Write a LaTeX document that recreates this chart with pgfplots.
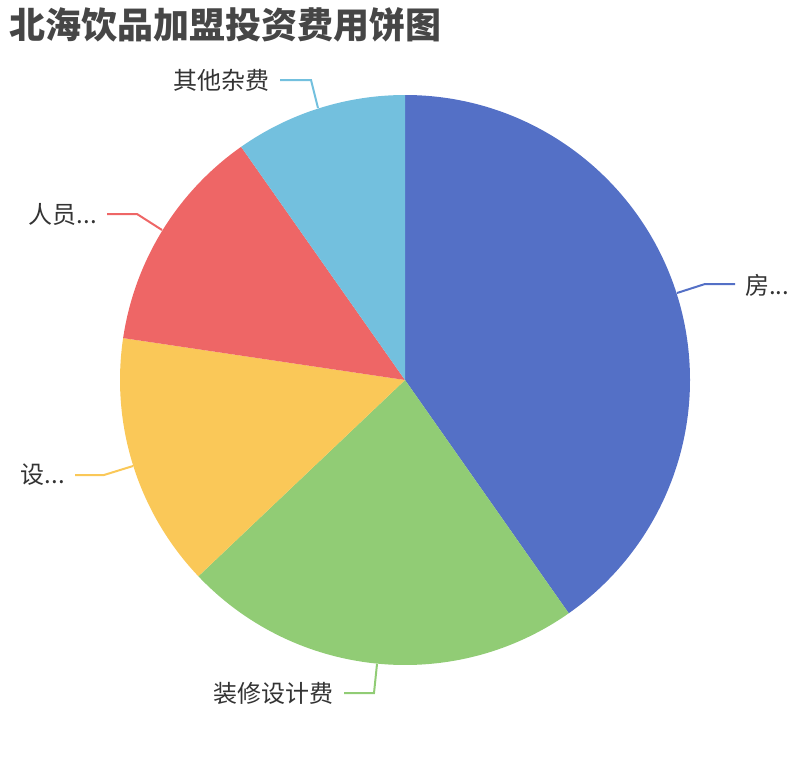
\documentclass[border=0pt]{standalone}
\usepackage{pgfplots}
\pgfplotsset{compat=1.18}
\usepackage{pgfplotstable}
\usepackage{fontspec}
\setmainfont{Noto Sans CJK SC}
\newfontfamily\cjk{Noto Sans CJK SC}
\definecolor{c1}{HTML}{5470C6}
\definecolor{c2}{HTML}{91CC75}
\definecolor{c3}{HTML}{FAC858}
\definecolor{c4}{HTML}{EE6666}
\definecolor{c5}{HTML}{73C0DE}
\definecolor{titlec}{HTML}{464646}
\definecolor{labc}{HTML}{333333}
\pgfplotstableread{
value color
40.26 c1
22.65 c2
14.44 c3
12.90 c4
9.75 c5
}\piedata
\begin{document}
\begin{tikzpicture}
\begin{axis}[
  width=607.5pt, height=570pt, scale only axis,
  xmin=0, xmax=810, ymin=0, ymax=760, y dir=reverse,
  hide axis, clip=false]
\addplot[draw=none, forget plot] coordinates {(0,0) (810,760)};
\pgfplotsextra{
  \path (axis cs:0,0) rectangle (axis cs:810,760);
  \gdef\cum{0}
  \foreach \i in {0,...,4}{%
    \pgfplotstablegetelem{\i}{value}\of\piedata
    \let\v\pgfplotsretval
    \pgfplotstablegetelem{\i}{color}\of\piedata
    \let\c\pgfplotsretval
    \pgfmathsetmacro\a{90-3.6*\cum}
    \pgfmathsetmacro\b{90-3.6*(\cum+\v)}
    \fill[color=\c] (axis cs:405,380) -- ++(\a:213.75pt) arc[start angle=\a, end angle=\b, radius=213.75pt] -- cycle;
    \pgfmathsetmacro\n{\cum+\v}
    \xdef\cum{\n}
  }
  % leader lines
  \draw[c1, line width=1.5pt] (axis cs:677,293) -- (axis cs:705,284) -- (axis cs:735,284);
  \draw[c2, line width=1.5pt] (axis cs:377,664) -- (axis cs:374,693) -- (axis cs:344,693);
  \draw[c3, line width=1.5pt] (axis cs:133,466) -- (axis cs:104,475) -- (axis cs:75,475);
  \draw[c4, line width=1.5pt] (axis cs:162,230) -- (axis cs:137,214) -- (axis cs:107,214);
  \draw[c5, line width=1.5pt] (axis cs:318,108) -- (axis cs:311,80) -- (axis cs:280,80);
  % labels
  \node[anchor=west, inner sep=0pt, text=labc, font=\cjk\fontsize{18pt}{20pt}\selectfont] at (axis cs:745,285) {房...};
  \node[anchor=east, inner sep=0pt, text=labc, font=\cjk\fontsize{18pt}{20pt}\selectfont] at (axis cs:334,693) {装修设计费};
  \node[anchor=east, inner sep=0pt, text=labc, font=\cjk\fontsize{18pt}{20pt}\selectfont] at (axis cs:65,475) {设...};
  \node[anchor=east, inner sep=0pt, text=labc, font=\cjk\fontsize{18pt}{20pt}\selectfont] at (axis cs:97,214) {人员...};
  \node[anchor=east, inner sep=0pt, text=labc, font=\cjk\fontsize{18pt}{20pt}\selectfont] at (axis cs:270,80) {其他杂费};
  % title
  \node[anchor=west, inner sep=0pt, text=titlec, font=\cjk\bfseries\fontsize{27pt}{30pt}\selectfont] at (axis cs:9,25) {北海饮品加盟投资费用饼图};
}
\end{axis}
\end{tikzpicture}
\end{document}
